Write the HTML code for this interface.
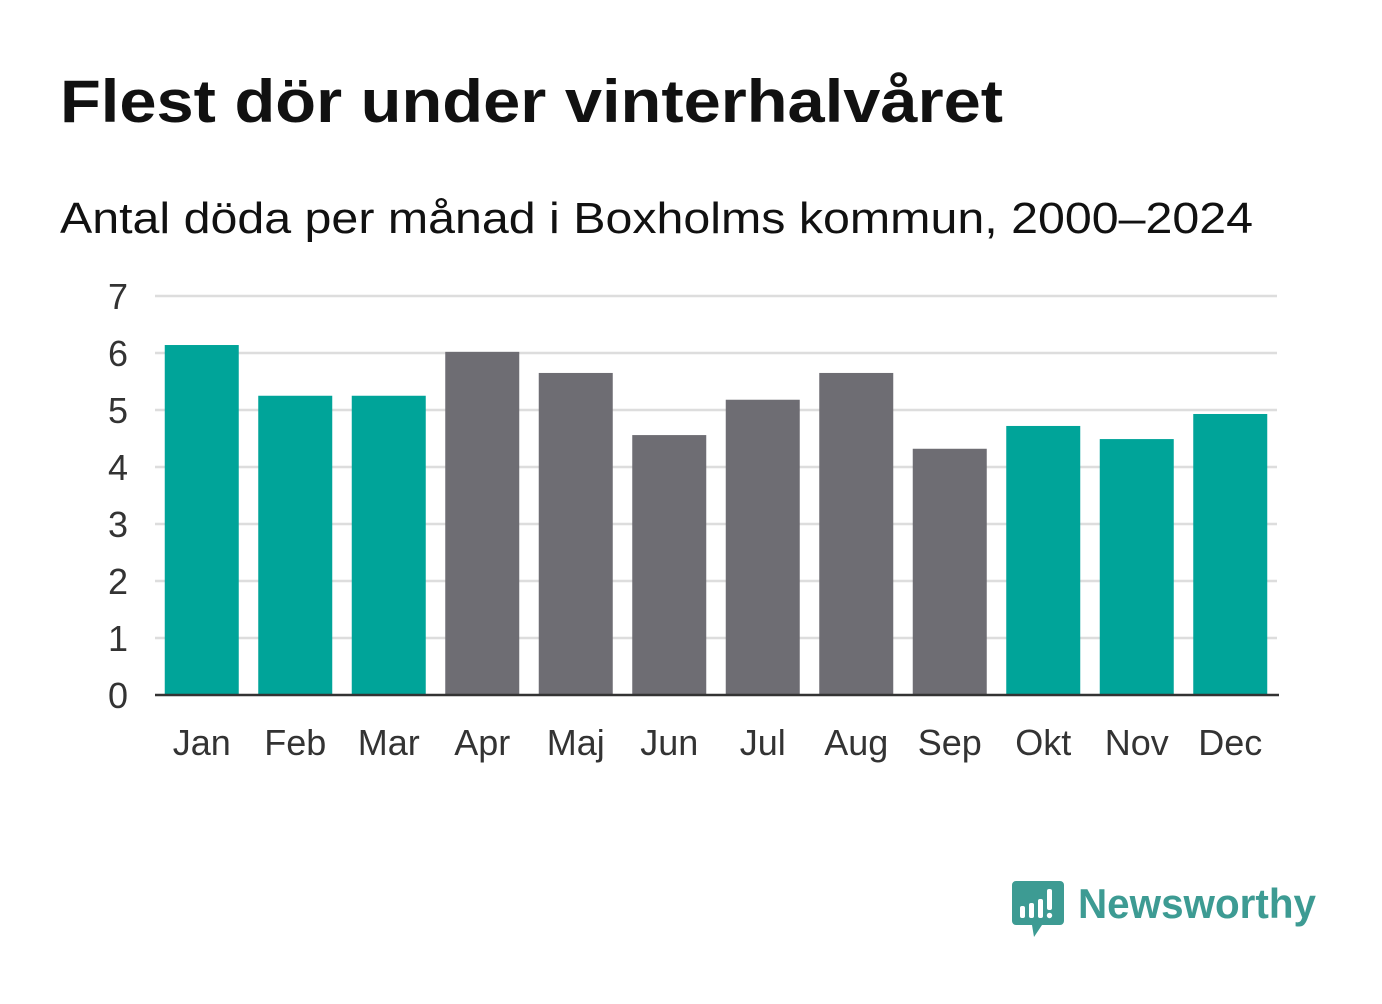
<!DOCTYPE html>
<html><head><meta charset="utf-8"><style>
body{margin:0;width:1382px;height:999px;background:#fff;overflow:hidden;font-family:"Liberation Sans",sans-serif}
</style></head><body>
<svg width="1382" height="999">
<text x="60" y="122" font-size="60" font-weight="bold" fill="#111" textLength="943" lengthAdjust="spacingAndGlyphs">Flest dör under vinterhalvåret</text>
<text x="60" y="233" font-size="44" fill="#111" textLength="1193" lengthAdjust="spacingAndGlyphs">Antal döda per månad i Boxholms kommun, 2000–2024</text>
<g id="grid"></g><g id="bars"></g><g id="xl"></g>
<line x1="155" x2="1279" y1="695" y2="695" stroke="#333" stroke-width="2.5"/>
<g>
<path d="M1016 881h44a4 4 0 0 1 4 4v36a4 4 0 0 1-4 4h-18l-8 12-2-12h-16a4 4 0 0 1-4-4v-36a4 4 0 0 1 4-4z" fill="#3d9b93"/>
<rect x="1020" y="906" width="5" height="12" rx="2" fill="#fff"/><rect x="1029" y="903" width="5" height="15" rx="2" fill="#fff"/><rect x="1038" y="899" width="5" height="19" rx="2" fill="#fff"/><rect x="1047" y="889" width="5" height="21" rx="2" fill="#fff"/><circle cx="1049.5" cy="915.5" r="2.7" fill="#fff"/>
<text x="1078" y="918" font-size="42" font-weight="bold" fill="#3d9b93" textLength="238" lengthAdjust="spacingAndGlyphs">Newsworthy</text>
</g>
</svg>
<script>
const months=["Jan","Feb","Mar","Apr","Maj","Jun","Jul","Aug","Sep","Okt","Nov","Dec"];
const values=[6.14,5.25,5.25,6.02,5.65,4.56,5.18,5.65,4.32,4.72,4.49,4.93];
const winter=[true,true,true,false,false,false,false,false,false,true,true,true];
const yTicks=[0,1,2,3,4,5,6,7];
const NS="http://www.w3.org/2000/svg";
const y=v=>695-v*57, x0=155, step=93.5;
const g=document.getElementById("grid"),b=document.getElementById("bars"),xl=document.getElementById("xl");
function mk(tag,a,p){const e=document.createElementNS(NS,tag);for(const k in a)e.setAttribute(k,a[k]);p.appendChild(e);return e;}
yTicks.forEach(t=>{
 if(t>0){const l=mk("line",{x1:155,x2:1277,y1:y(t),y2:y(t),stroke:"#ddd","stroke-width":2.5},g);
 
 }
 const tx=mk("text",{x:128,y:y(t)+13,"font-size":36,fill:"#333","text-anchor":"end"},g);tx.textContent=t;
 
 
});
months.forEach((m,i)=>{
 const cx=x0+step*(i+0.5);
 const r=mk("rect",{x:cx-37,y:y(values[i]),width:74,height:values[i]*57,fill:winter[i]?"#00a499":"#6e6d73"},b);
 
 
 const t=mk("text",{x:cx,y:755,"font-size":36,fill:"#333","text-anchor":"middle"},xl);t.textContent=m;
 
 
});
</script>
</body></html>
